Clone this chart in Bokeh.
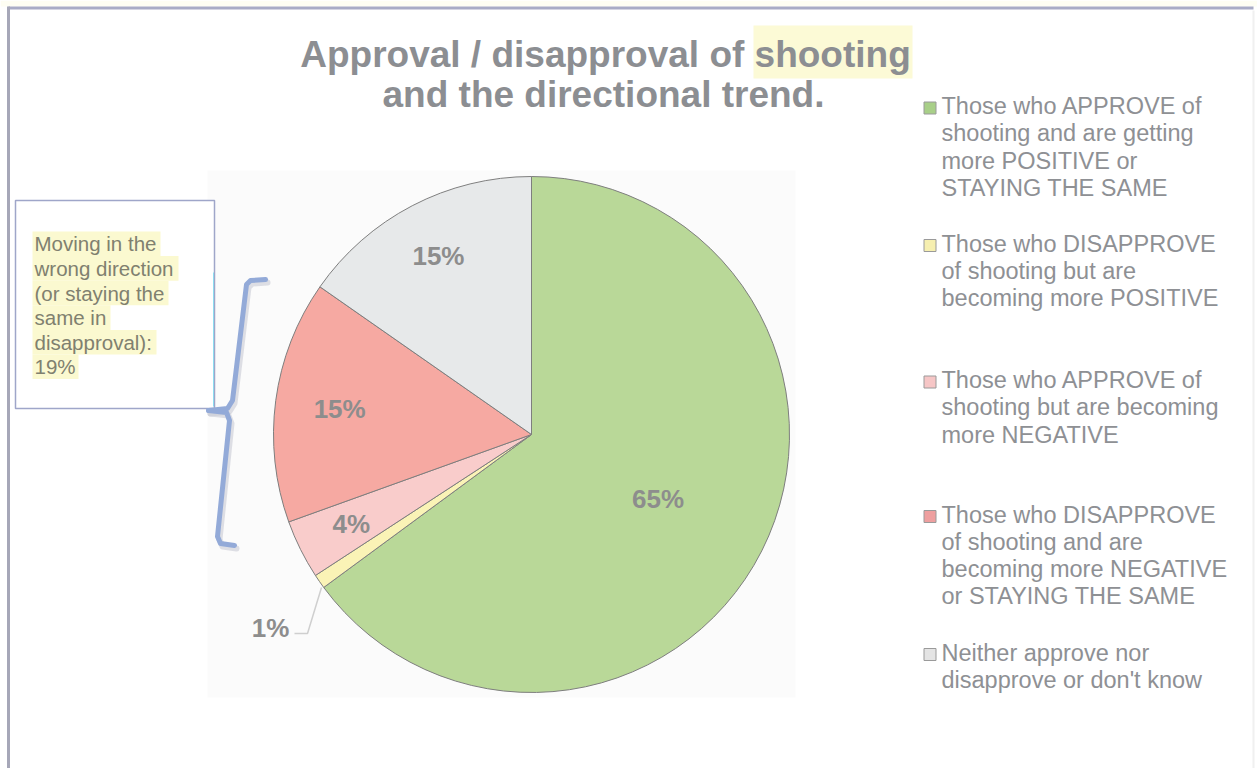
import math
from bokeh.plotting import figure
from bokeh.models import Range1d
from bokeh.core.properties import value
from bokeh.embed import file_html
from bokeh.resources import INLINE

# ---------------- data ----------------
title_lines = ["Approval / disapproval of shooting", "and the directional trend."]
categories = [
    "Those who APPROVE of\nshooting and are getting\nmore POSITIVE or\nSTAYING THE SAME",
    "Those who DISAPPROVE\nof shooting but are\nbecoming more POSITIVE",
    "Those who APPROVE of\nshooting but are becoming\nmore NEGATIVE",
    "Those who DISAPPROVE\nof shooting and are\nbecoming more NEGATIVE\nor STAYING THE SAME",
    "Neither approve nor\ndisapprove or don't know",
]
shares = [64.9, 0.9, 3.7, 15.2, 15.3]
pct_labels = ["65%", "1%", "4%", "15%", "15%"]
slice_colors = ["#B9D898", "#FAF3B6", "#F9CCCB", "#F6A9A2", "#E7E9EA"]
swatch_colors = ["#A8CF88", "#F6EFB0", "#F6C6C6", "#EE9F9F", "#E4E4E4"]
note_lines = ["Moving in the", "wrong direction", "(or staying the", "same in",
              "disapproval):", "19%"]

# ---------------- layout ----------------
W, H = 1257, 768


def Y(py):
    return H - py


p = figure(width=W, height=H, x_range=Range1d(0, W), y_range=Range1d(0, H),
           output_backend="svg", toolbar_location=None,
           x_axis_type=None, y_axis_type=None, min_border=0)
p.outline_line_color = None
p.grid.visible = False
p.background_fill_color = "white"
p.border_fill_color = "white"

FONT = value("Liberation Sans")
GREY = "#8C8E92"

# page frame
p.quad(left=[0], right=[W], top=[Y(0)], bottom=[Y(6)], fill_color="#FEFEF3", line_color=None)
p.segment(x0=[8], y0=[Y(7.5)], x1=[1253], y1=[Y(7.5)], line_color="#A9ACC6", line_width=3)
p.segment(x0=[8], y0=[Y(6)], x1=[8], y1=[Y(768)], line_color="#A6A7B8", line_width=3)
p.segment(x0=[1253], y0=[Y(10)], x1=[1253], y1=[Y(768)], line_color="#F0F0F0", line_width=2)

# faint plot area background
p.quad(left=[207], right=[795], top=[Y(170)], bottom=[Y(697)], fill_color="#FBFBFB", line_color=None)

# title
p.quad(left=[753], right=[912], top=[Y(25)], bottom=[Y(78)], fill_color="#FCFAD6", line_color=None)
p.text(x=[605, 603], y=[Y(53.5), Y(94)], text=title_lines, text_font=FONT,
       text_font_size=value("37px"), text_font_style="bold", text_color=GREY,
       text_align="center", text_baseline="middle")

# pie
cx, cy, R = 531, 434, 258
total = sum(shares)
cum = [0.0]
for s in shares:
    cum.append(cum[-1] + s / total)
starts = [math.pi / 2 - 2 * math.pi * cum[i] for i in range(len(shares))]
ends = [math.pi / 2 - 2 * math.pi * cum[i + 1] for i in range(len(shares))]
p.wedge(x=[cx] * len(shares), y=[Y(cy)] * len(shares), radius=R,
        start_angle=starts, end_angle=ends, direction="clock",
        fill_color=slice_colors, line_color="#7E7E7E", line_width=1)

# percentage labels
rfac = [0.55, None, 0.78, 0.75, 0.78]
lx, ly, lt = [], [], []
for i, lab in enumerate(pct_labels):
    if rfac[i] is None:
        continue
    mid = 2 * math.pi * (cum[i] + cum[i + 1]) / 2
    r = rfac[i] * R
    lx.append(cx + r * math.sin(mid))
    ly.append(Y(cy - r * math.cos(mid)))
    lt.append(lab)
p.text(x=lx, y=ly, text=lt, text_font=FONT, text_font_size=value("26px"),
       text_font_style="bold", text_color="#8D8D8D", text_align="center",
       text_baseline="middle")
# outside label for the small slice with leader line
p.line(x=[321, 307, 294], y=[Y(587), Y(633), Y(633)], line_color="#CFCFCF", line_width=1.5)
p.text(x=[270], y=[Y(627)], text=[pct_labels[1]], text_font=FONT,
       text_font_size=value("26px"), text_font_style="bold", text_color="#8D8D8D",
       text_align="center", text_baseline="middle")

# legend
first_mid = [105.5, 243, 379.5, 514, 652]
step = 27.3
tx, ty, tt = [], [], []
for i, cat in enumerate(categories):
    for j, line in enumerate(cat.split("\n")):
        tx.append(941)
        ty.append(Y(first_mid[i] + j * step))
        tt.append(line)
p.rect(x=[929.5] * 5, y=[Y(m + 2) for m in first_mid], width=12, height=12,
       fill_color=swatch_colors, line_color="#9A9A9A", line_width=1)
p.text(x=tx, y=ty, text=tt, text_font=FONT, text_font_size=value("23.5px"),
       text_color="#8E9094", text_align="left", text_baseline="middle")

# annotation box
p.quad(left=[15], right=[214], top=[Y(200)], bottom=[Y(408)], fill_color="white",
       line_color="#9FA6C9", line_width=1.5)
p.segment(x0=[213], y0=[Y(272)], x1=[213], y1=[Y(406)], line_color="#8EDCF0", line_width=1)
hl_w = [128, 146, 136, 78, 124, 46]
nm = [243.3 + k * 24.6 for k in range(len(note_lines))]
p.quad(left=[32] * len(nm), right=[32 + w for w in hl_w], top=[Y(m - 12.3) for m in nm],
       bottom=[Y(m + 12.3) for m in nm], fill_color="#FBF9D0", line_color=None)
p.text(x=[34] * len(nm), y=[Y(m) for m in nm], text=note_lines, text_font=FONT,
       text_font_size=value("20.5px"), text_color="#80806F", text_align="left",
       text_baseline="middle")

# bracket
bx1 = [265, 250, 246, 232, 227, 208]
by1 = [279, 280, 284, 400, 408, 410]
bx2 = [208, 226, 229, 217, 220, 234]
by2 = [410, 412, 420, 536, 543, 545]
p.multi_line(xs=[[x + 2 for x in bx1], [x + 2 for x in bx2]],
             ys=[[Y(y + 3) for y in by1], [Y(y + 3) for y in by2]],
             line_color="#C9CBD6", line_alpha=0.6, line_width=6, line_cap="round", line_join="round")
p.multi_line(xs=[bx1, bx2], ys=[[Y(y) for y in by1], [Y(y) for y in by2]],
             line_color="#93AAD8", line_width=5, line_cap="round", line_join="round")

open("out.html", "w").write(file_html(p, INLINE))
